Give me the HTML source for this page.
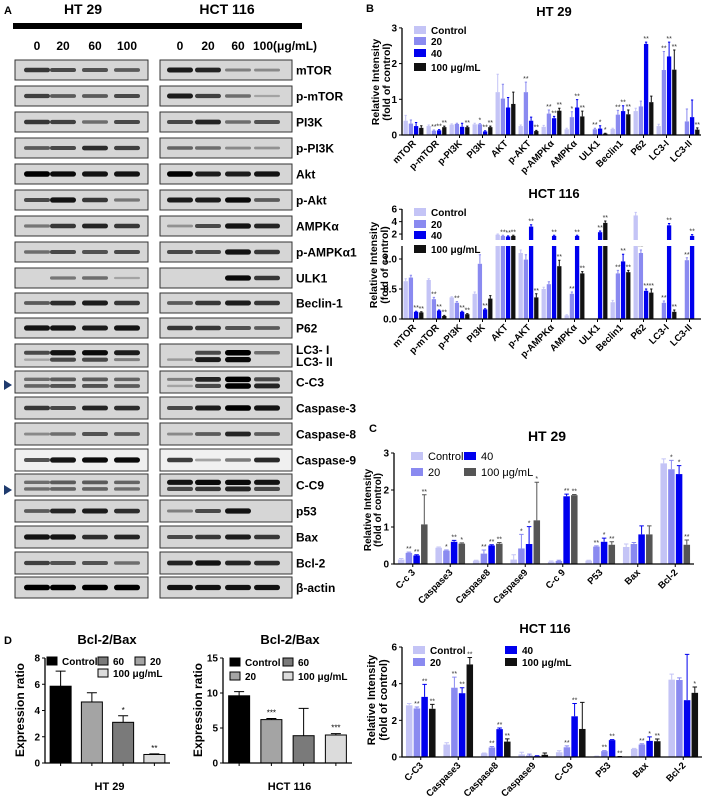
<!DOCTYPE html>
<html><head><meta charset="utf-8">
<style>
html,body{margin:0;padding:0;background:#fff;}
svg{display:block;font-family:"Liberation Sans",Arial,sans-serif;}
</style></head>
<body>
<svg id="fig" width="708" height="799" viewBox="0 0 708 799"></svg>
<script>
// ---------- Data: Panel B HT29 ----------
const bCats = ["mTOR","p-mTOR","p-PI3K","PI3K","AKT","p-AKT","p-AMPKα","AMPKα","ULK1","Beclin1","P62","LC3-I","LC3-II"];
const bHtCtrl = [0.40,0.25,0.29,0.30,1.20,0.25,0.23,0.16,0,0.17,0.67,0.25,0];
const bHt20   = [0.32,0.12,0.31,0.30,1.02,1.20,0.60,0.50,0.16,0.57,0.80,1.82,0.38];
const bHt40   = [0.25,0.13,0.23,0.10,0.77,0.40,0.47,0.77,0.18,0.67,2.55,2.20,0.50];
const bHt100  = [0.20,0.22,0.22,0.22,0.87,0.11,0.68,0.52,0.04,0.58,0.92,1.83,0.15];
const bHtErrC = [0.15,0.03,0.02,0.03,0.50,0.03,0.04,0.03,0,0.02,0.08,0.05,0];
const bHtErr20= [0.10,0.02,0.02,0.02,0.40,0.28,0.10,0.15,0.03,0.12,0.15,0.52,0.35];
const bHtErr40= [0.10,0.02,0.10,0.02,0.28,0.10,0.05,0.22,0.08,0.15,0.05,0.40,0.48];
const bHtErr100=[0.06,0.03,0.03,0.03,0.33,0.02,0.07,0.15,0.01,0.12,0.17,0.55,0.05];
const bHtStar20 = ["","**","","*","","**","**","*","**","**","","**",""];
const bHtStar40 = ["","**","","**","","","**","**","*","**","**","**",""];
const bHtStar100= ["","**","**","**","","**","**","**","*","**","","**","**"];
const bTicksTop = [0,1,2,3];
// ---------- Data: Panel B HCT116 ----------
const bHcCtrl = [0.63,0.65,0.36,0.42,1.90,1.10,0.50,0.06,0,0.28,5.0,0,0];
const bHc20   = [0.69,0.33,0.27,0.92,1.70,0.99,0.58,0.42,0,0.76,1.10,0.27,0.98];
const bHc40   = [0.12,0.14,0.12,0.16,1.60,3.20,1.70,1.70,2.30,0.96,0.47,3.40,1.70];
const bHc100  = [0.11,0.05,0.08,0.34,1.70,0.36,0.88,0.76,3.80,0.78,0.44,0.12,0];
const bHcErrC = [0.04,0.02,0.01,0.03,0.1,0.05,0.03,0.01,0,0.03,0.5,0,0];
const bHcErr20= [0.04,0.03,0.02,0.15,0.1,0.08,0.04,0.03,0,0.05,0.05,0.03,0.04];
const bHcErr40= [0.01,0.01,0.01,0.01,0.1,0.3,0.1,0.1,0.2,0.12,0.03,0.3,0.2];
const bHcErr100=[0.01,0.01,0.01,0.05,0.1,0.06,0.1,0.03,0.3,0.03,0.06,0.03,0];
const bHcStar20 = ["","**","**","","**","","","**","","**","**","**","**"];
const bHcStar40 = ["**","**","**","**","**","**","**","**","**","**","**","**","**"];
const bHcStar100= ["**","**","**","","**","**","**","**","**","**","**","**",""];
const bTicksLow = [0,0.5,1.0];
const bTickLowLabels = ["0.0","0.5","1.0"];
const bTicksHigh = [2,4,6];
// ---------- Data: Panel C HT29 ----------
const cCats = ["C-c 3","Caspase3","Caspase8","Caspase9","C-c 9","P53","Bax","Bcl-2"];
const cCtrl = [0.12,0.44,0.09,0.12,0.06,0.09,0.46,2.72];
const c20   = [0.30,0.36,0.28,0.42,0.08,0.47,0.54,2.56];
const c40   = [0.23,0.60,0.50,0.54,1.83,0.60,0.80,2.43];
const c100  = [1.07,0.55,0.55,1.18,1.86,0.52,0.80,0.52];
const cErrC = [0.03,0.02,0.01,0.13,0.02,0.01,0.08,0.12];
const cErr20= [0.02,0.02,0.10,0.38,0.02,0.02,0.04,0.24];
const cErr40= [0.02,0.04,0.02,0.47,0.06,0.10,0.23,0.23];
const cErr100=[0.80,0.02,0.03,1.03,0.02,0.08,0.23,0.13];
const cStar20 = ["**","*","**","*","","**","",  "*"];
const cStar40 = ["**","**","**","*","**","*","","*"];
const cStar100= ["**","*","**","*","**","**","","**"];
const cTicks = [0,1,2,3];
// ---------- Data: HCT116 apoptosis ----------
const hCats = ["C-C3","Caspase3","Caspase8","Caspase9","C-C9","P53","Bax","Bcl-2"];
const hCtrl = [2.82,0.68,0.20,0.14,0.26,0.04,0.44,4.22];
const h20   = [2.65,3.78,0.52,0.08,0.53,0.32,0.68,4.20];
const h40   = [3.28,3.48,1.52,0.05,2.22,0.92,0.88,3.10];
const h100  = [2.63,5.05,0.84,0.12,1.53,0.02,0.86,3.50];
const hErrC = [0.10,0.10,0.02,0.12,0.08,0.01,0.03,0.30];
const hErr20= [0.08,0.58,0.05,0.08,0.08,0.03,0.04,0.12];
const hErr40= [0.68,0.30,0.06,0.02,0.70,0.03,0.22,2.50];
const hErr100=[0.24,0.38,0.15,0.10,1.45,0.01,0.12,0.32];
const hStar20 = ["**","**","**","","**","**","**",""];
const hStar40 = ["**","**","**","","**","**","*",""];
const hStar100= ["**","**","**","","","**","**","*"];
const hTicks = [0,2,4,6];
// ---------- Data: Panel D ----------
const dLabels = ["Control","20","60","100 μg/mL"];
const dHt = [5.85,4.65,3.1,0.65];
const dHtErr = [1.15,0.7,0.5,0.05];
const dHtStar = ["","","*","**"];
const dHc = [9.6,6.2,3.9,4.0];
const dHcErr = [0.6,0.15,3.9,0.2];
const dHcStar = ["","***","","***"];
const dHtTicks = [0,2,4,6,8];
const dHcTicks = [0,5,10,15];

const NS='http://www.w3.org/2000/svg';
const svg=document.getElementById('fig');
function mk(p,tag,a){const e=document.createElementNS(NS,tag);for(const k in a)e.setAttribute(k,a[k]);p.appendChild(e);return e;}
function tx(p,x,y,s,a){const e=mk(p,'text',Object.assign({x:x,y:y},a||{}));e.textContent=s;return e;}

// ---------- Panel letters ----------
[["A",4,14],["B",366,12],["C",369,432],["D",4,644]].forEach(function(l){
  const t=tx(svg,l[1],l[2],l[0],{'font-size':11,'font-weight':'bold'});
  
  
});

// ---------- Panel A: western blots ----------
const gA=mk(svg,'g',{});


let t;
t=tx(gA,83,14,"HT 29",{'font-size':14,'font-weight':'bold','text-anchor':'middle'});


t=tx(gA,227,14,"HCT 116",{'font-size':14,'font-weight':'bold','text-anchor':'middle'});


const bar=mk(gA,'rect',{x:13,y:23,width:289,height:6,fill:'#000'});


const laneX=[37,63,95,127,180,208,238,267];
const laneTxt=["0","20","60","100","0","20","60","100(μg/mL)"];
laneTxt.forEach(function(s,i){
  const e=tx(gA,i===7?253:laneX[i],50,s,{'font-size':12,'font-weight':'bold','text-anchor':i===7?'start':'middle'});
  
  
});
const rows=[
 ["mTOR",60,20,[.7,.6,.55,.5,.85,.8,.3,.25]],
 ["p-mTOR",86,20,[.65,.5,.5,.6,.85,.65,.4,.1]],
 ["PI3K",112,20,[.7,.65,.4,.6,.6,.8,.4,.55]],
 ["p-PI3K",138,20,[.5,.6,.75,.65,.45,.4,.25,.2]],
 ["Akt",164,20,[1,.95,.9,.9,1,.85,.85,.9]],
 ["p-Akt",190,20,[.6,.9,.7,.35,.85,.85,.95,.5]],
 ["AMPKα",216,20,[.35,.7,.8,.7,.2,.6,.9,.8]],
 ["p-AMPKα1",242,20,[.4,.6,.55,.6,.6,.6,.9,.7]],
 ["ULK1",268,20,[0,.35,.4,.1,0,0,.95,.7]],
 ["Beclin-1",293,20,[.5,.75,.85,.7,.5,.7,.85,.7]],
 ["P62",318,20,[.9,.9,.85,.9,.7,.7,.55,.5]],
 ["LC3",344,23,[.6,.9,.95,.85,0,.6,1,.4],[.1,.6,.6,.3,.15,.85,.95,0]],
 ["C-C3",371,22,[.4,.5,.5,.45,.3,.8,1,.6],[.45,.55,.55,.5,.1,.6,1,.8]],
 ["Caspase-3",397,22,[.7,.6,.8,.75,.6,.85,1,.9]],
 ["Caspase-8",423,22,[.25,.4,.55,.5,.25,.5,.8,.5]],
 ["Caspase-9",449,22,[.6,.9,.95,.95,.7,.2,.4,.8]],
 ["C-C9",474,22,[.4,.5,.5,.45,.9,.95,.95,.9],[.4,.45,.45,.4,.6,.7,.8,.6]],
 ["p53",500,22,[.5,.8,.85,.75,.3,.6,.9,0]],
 ["Bax",526,22,[.9,.9,.75,.8,.6,.7,.85,.7]],
 ["Bcl-2",552,22,[.65,.55,.55,.4,.8,.9,.8,.75]],
 ["β-actin",577,21,[1,1,1,1,.9,.9,.9,.9]]
];
rows.forEach(function(r){
  const g=mk(gA,'g',{});
  
  
  const bg=r[0]==="Caspase-9"?'#f0f0f0':'#d6d6d6';
  [[15,133],[160,132]].forEach(function(bx){
    const b=mk(g,'rect',{x:bx[0],y:r[1],width:bx[1],height:r[2],fill:bg,stroke:'#333','stroke-width':1});
    
    
  });
  const two=r.length>4;
  for(let i=0;i<8;i++){
    const draw=function(v,cy){
      if(v<=0.02)return;
      const h=2+3.5*v;
      const e=mk(g,'rect',{x:laneX[i]-13,y:cy-h/2,width:26,height:h,rx:h/2,fill:'#000','fill-opacity':Math.min(1,0.15+0.85*v)});
      
      
    };
    if(two){draw(r[3][i],r[1]+r[2]*0.38);draw(r[4][i],r[1]+r[2]*0.68);}
    else draw(r[3][i],r[1]+r[2]/2);
  }
  if(r[0]==="LC3"){
    let a=tx(g,296,r[1]+10,"LC3- I",{'font-size':12,'font-weight':'bold'});
    
    
    a=tx(g,296,r[1]+22,"LC3- II",{'font-size':12,'font-weight':'bold'});
    
    
  } else {
    const a=tx(g,296,r[1]+r[2]/2+4.5,r[0],{'font-size':12,'font-weight':'bold'});
    
    
  }
});
[385,490].forEach(function(y){
  const p=mk(gA,'path',{d:'M4 '+(y-5)+' L12 '+y+' L4 '+(y+5)+' Z',fill:'#1f3b6e'});
  
  
});

// ---------- generic grouped bar chart ----------
function barChart(o){
  const g=mk(svg,'g',{});
  
  
  const n=o.cats.length, gw=(o.x1-o.x0)/n;
  for(let i=0;i<n;i++){
    const cx=o.x0+(i+0.5)*gw;
    for(let s=0;s<o.series.length;s++){
      const v=o.series[s][i];
      const bx=cx+(s-(o.series.length-1)/2)*(o.bw+o.gap)-o.bw/2;
      if(v>0){
        const y=o.yf(v);
        const r=mk(g,'rect',{x:bx,y:y,width:o.bw,height:o.base-y,fill:o.colors[s]});
        
        
        const ev=o.errs[s][i];
        let topY=y;
        if(ev>0){
          const ey=o.yf(v+ev);topY=ey;
          const l=mk(g,'path',{d:'M'+(bx+o.bw/2)+' '+y+' V'+ey+' M'+(bx+1)+' '+ey+' H'+(bx+o.bw-1),stroke:o.colors[s],'stroke-width':1,fill:'none'});
          
          
        }
        const st=o.stars[s]?o.stars[s][i]:"";
        if(st){
          const e=tx(g,bx+o.bw/2,topY-1,st,{'font-size':7,'text-anchor':'middle',fill:'#333'});
          
          
        }
      }
    }
    const tk=mk(g,'line',{x1:cx,x2:cx,y1:o.base,y2:o.base+3,stroke:'#000'});
    
    
    const lx=cx+3, ly=o.base+9;
    const lb=tx(g,lx,ly,o.cats[i],{'font-size':o.lfs||10,'font-weight':'bold','text-anchor':'end',transform:'rotate(-45 '+lx+' '+ly+')'});
    
    
  }
  const ax=mk(g,'path',{d:'M'+o.x0+' '+o.yTop+' V'+o.base+' H'+o.x1,stroke:'#000','stroke-width':1.3,fill:'none'});
  
  
  o.ticks.forEach(function(v,k){
    const y=o.yf(v);
    const l=mk(g,'line',{x1:o.x0-3,x2:o.x0,y1:y,y2:y,stroke:'#000'});
    
    
    const e=tx(g,o.x0-5,y+3.5,o.tickLabels?o.tickLabels[k]:String(v),{'font-size':10,'font-weight':'bold','text-anchor':'end'});
    
    
  });
  return g;
}
function yTitle(x,y,lines,fs,name,sp){
  const e=mk(svg,'text',{x:0,y:0,'font-size':fs,'font-weight':'bold','text-anchor':'middle',transform:'translate('+x+' '+y+') rotate(-90)'});
  
  
  lines.forEach(function(s,i){const ts=mk(e,'tspan',{x:0,dy:i?(sp||11):0});ts.textContent=s;});
}
function title(x,y,s,fs,name){
  const e=tx(svg,x,y,s,{'font-size':fs,'font-weight':'bold','text-anchor':'middle'});
  
  
}
function legend(items,name,bold){
  const g=mk(svg,'g',{});
  
  
  items.forEach(function(it){
    const r=mk(g,'rect',{x:it[0],y:it[1]-4,width:it[5]||12,height:8,fill:it[3],stroke:it[4]||'none'});
    
    
    const e=tx(g,it[0]+(it[5]||12)+5,it[1]+4,it[2],{'font-size':bold?10:11,'font-weight':bold?'bold':'normal'});
    
    
  });
}
const C0='#c4c4f6',C1='#8a8af0',C2='#0000ee',C3='#111';

// ---------- B HT29 ----------
title(554,16,"HT 29",13,'chart-title-b-ht29');
barChart({name:'chart-b-ht29',cats:bCats,series:[bHtCtrl,bHt20,bHt40,bHt100],errs:[bHtErrC,bHtErr20,bHtErr40,bHtErr100],
 stars:[[],bHtStar20,bHtStar40,bHtStar100],colors:[C0,C1,C2,C3],x0:402,x1:701,base:135,yTop:28,
 yf:function(v){return 135-v*35.7;},bw:4.3,gap:0.9,ticks:bTicksTop,lfs:9.5});
yTitle(379,82,["Relative Intensity","(fold of control)"],10.5,'y-axis-title-b-ht29');
legend([[414,30,"Control",C0],[414,41,"20",C1],[414,53,"40",C2],[414,67,"100 μg/mL",C3]],'legend-b-ht29',true);

// ---------- B HCT116 (broken axis) ----------
title(554,198,"HCT 116",13,'chart-title-b-hct116');
function yHc(v){return v<=1.2?319-v*60:Math.max(207,239-(v-1.2)*6.2);}
const gHc=barChart({name:'chart-b-hct116',cats:bCats,series:[bHcCtrl,bHc20,bHc40,bHc100],errs:[bHcErrC,bHcErr20,bHcErr40,bHcErr100],
 stars:[[],bHcStar20,bHcStar40,bHcStar100],colors:[C0,C1,C2,C3],x0:402,x1:701,base:319,yTop:209,
 yf:yHc,bw:4.3,gap:0.9,ticks:bTicksLow.concat(bTicksHigh),tickLabels:bTickLowLabels.concat(bTicksHigh.map(String)),lfs:9.5});
const brk=mk(gHc,'rect',{x:398,y:240,width:305,height:6,fill:'#fff'});


yTitle(377,265,["Relative Intensity","(fold of control)"],10.5,'y-axis-title-b-hct116');
legend([[414,212,"Control",C0],[414,224,"20",C1],[414,235,"40",C2],[414,249,"100 μg/mL",C3]],'legend-b-hct116',true);

// ---------- C HT29 ----------
title(547,441,"HT 29",14,'chart-title-c-ht29');
barChart({name:'chart-c-ht29',cats:cCats,series:[cCtrl,c20,c40,c100],errs:[cErrC,cErr20,cErr40,cErr100],
 stars:[[],cStar20,cStar40,cStar100],colors:[C0,C1,C2,'#555'],x0:394,x1:694,base:564,yTop:453,
 yf:function(v){return 564-v*37;},bw:6.5,gap:1.2,ticks:cTicks,lfs:9.5});
yTitle(371,510,["Relative Intensity","(fold of control)"],10,'y-axis-title-c-ht29',10);
legend([[411,456,"Control",C0],[464,456,"40",C2],[411,472,"20",C1],[464,472,"100 μg/mL",'#555']],'legend-c-ht29',false);

// ---------- HCT116 apoptosis ----------
title(545,633,"HCT 116",13,'chart-title-c-hct116');
barChart({name:'chart-c-hct116',cats:hCats,series:[hCtrl,h20,h40,h100],errs:[hErrC,hErr20,hErr40,hErr100],
 stars:[[],hStar20,hStar40,hStar100],colors:[C0,C1,C2,C3],x0:402,x1:702,base:757,yTop:647,
 yf:function(v){return 757-v*18.33;},bw:6.5,gap:1.2,ticks:hTicks,lfs:9.5});
yTitle(375,700,["Relative Intensity","(fold of control)"],11,'y-axis-title-c-hct116',12);
legend([[413,650,"Control",C0],[413,662,"20",C1],[505,650,"40",C2],[505,662,"100 μg/mL",C3]],'legend-c-hct116',true);

// ---------- D ----------
const dCols=['#000','#a4a4a4','#7a7a7a','#dcdcdc'];
function dChart(name,vals,errs,stars,ticks,x0,x1,max,xl){
  const g=mk(svg,'g',{});
  
  
  const base=763, top=658, yf=function(v){return base-v/max*(base-top);};
  const gw=(x1-x0)/vals.length;
  vals.forEach(function(v,i){
    const cx=x0+(i+0.5)*gw, y=yf(v);
    const r=mk(g,'rect',{x:cx-10.5,y:y,width:21,height:base-y,fill:dCols[i],stroke:'#000','stroke-width':1});
    
    
    const ey=yf(v+errs[i]);
    const l=mk(g,'path',{d:'M'+cx+' '+y+' V'+ey+' M'+(cx-5)+' '+ey+' H'+(cx+5),stroke:'#000',fill:'none'});
    
    
    if(stars[i]){
      const s=tx(g,cx,ey-3,stars[i],{'font-size':8,'text-anchor':'middle'});
      
      
    }
    const tk=mk(g,'line',{x1:cx,x2:cx,y1:base,y2:base+3,stroke:'#000'});
    
    
  });
  const ax=mk(g,'path',{d:'M'+x0+' '+top+' V'+base+' H'+x1,stroke:'#000','stroke-width':1.3,fill:'none'});
  
  
  ticks.forEach(function(v){
    const y=yf(v);
    const l=mk(g,'line',{x1:x0-3,x2:x0,y1:y,y2:y,stroke:'#000'});
    
    
    const e=tx(g,x0-5,y+3.5,String(v),{'font-size':10,'font-weight':'bold','text-anchor':'end'});
    
    
  });
  const xlab=tx(g,(x0+x1)/2+2,790,xl,{'font-size':11,'font-weight':'bold','text-anchor':'middle'});
  
  
}
title(107,644,"Bcl-2/Bax",13,'chart-title-d-ht29');
title(290,644,"Bcl-2/Bax",13,'chart-title-d-hct116');
dChart('chart-d-ht29',dHt,dHtErr,dHtStar,dHtTicks,45,170,8,"HT 29");
dChart('chart-d-hct116',dHc,dHcErr,dHcStar,dHcTicks,223,352,15,"HCT 116");
yTitle(24,710,["Expression ratio"],12,'y-axis-title-d-ht29');
yTitle(202,710,["Expression ratio"],12,'y-axis-title-d-hct116');
legend([[47,661,"Control",'#000','#000',10],[98,661,"60",'#7a7a7a','#000',10],[135,661,"20",'#a4a4a4','#000',10],[98,673,"100 μg/mL",'#dcdcdc','#000',10]],'legend-d-ht29',true);
legend([[230,662,"Control",'#000','#000',10],[283,662,"60",'#7a7a7a','#000',10],[230,676,"20",'#a4a4a4','#000',10],[283,676,"100 μg/mL",'#dcdcdc','#000',10]],'legend-d-hct116',true);
</script>
</body></html>
